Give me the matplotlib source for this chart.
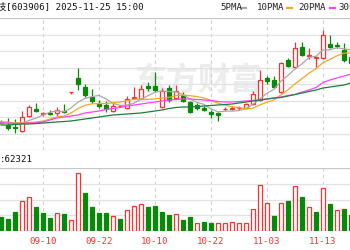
import numpy as np
import matplotlib
matplotlib.use("Agg")
import matplotlib.pyplot as plt
from matplotlib.lines import Line2D

plt.rcParams['font.family'] = ['DejaVu Sans Mono', 'Noto Sans CJK SC']

# daily k-line, 2025-09-02 .. 2025-11-19 (chart is cut at the right edge)
opens = [9.85, 9.50, 9.35, 8.90, 10.40, 11.10, 10.60, 10.70, 10.70, 10.95,
         12.80, 14.20, 13.30, 12.30, 11.65, 11.50, 10.90, 11.40, 11.20, 12.20,
         12.15, 13.40, 13.45, 11.30, 13.20, 12.20, 12.50, 11.80, 11.50, 11.20,
         10.80, 10.70, 11.10, 11.15, 11.20, 11.20, 11.60, 12.00, 14.20, 14.00,
         12.80, 16.00, 15.30, 17.30, 16.45, 16.25, 16.20, 17.60, 17.50, 17.00,
         16.30]
highs = [10.00, 10.20, 10.10, 10.90, 11.50, 11.70, 10.85, 11.00, 11.30, 11.60,
         12.85, 15.25, 13.60, 13.10, 12.00, 11.90, 11.70, 11.55, 12.40, 13.30,
         13.55, 13.80, 14.80, 13.20, 13.50, 13.50, 12.80, 11.90, 11.70, 11.40,
         11.00, 10.80, 11.35, 11.40, 11.40, 11.70, 12.90, 15.00, 14.40, 14.40,
         15.80, 16.20, 17.80, 17.80, 17.20, 16.40, 19.00, 18.50, 17.80, 17.70,
         16.50]
lows = [9.60, 9.00, 8.70, 8.80, 10.30, 10.80, 10.45, 10.50, 10.40, 10.70,
        12.65, 13.00, 12.30, 11.70, 11.20, 10.80, 10.80, 11.30, 11.15, 12.15,
        12.10, 12.90, 12.80, 11.20, 11.80, 12.10, 11.80, 10.70, 11.00, 10.90,
        10.20, 9.90, 10.95, 11.00, 11.05, 11.15, 11.50, 11.95, 13.60, 13.20,
        12.75, 15.30, 15.25, 16.40, 16.10, 15.20, 16.15, 17.20, 17.20, 15.80,
        15.60]
closes = [9.75, 9.20, 9.20, 10.35, 11.30, 10.95, 10.70, 10.60, 11.00, 10.85,
          12.85, 13.60, 12.50, 11.90, 11.45, 11.10, 11.40, 11.45, 12.10, 12.35,
          13.10, 13.20, 13.05, 12.90, 12.00, 12.90, 11.90, 10.80, 11.20, 11.00,
          10.60, 10.50, 11.15, 11.20, 11.25, 11.60, 12.60, 14.00, 13.90, 13.30,
          15.70, 15.40, 17.20, 16.50, 16.50, 16.30, 18.50, 17.35, 17.45, 16.00,
          15.70]
volumes = [14150, 11870, 18500, 29680, 33340, 23440, 17510, 12860, 18100, 16520,
           10880, 57080, 37290, 23440, 17510, 17510, 15130, 11870, 20770, 25030,
           26410, 23440, 25030, 19090, 15530, 16520, 10880, 14150, 8210, 9200,
           7620, 7620, 7620, 8900, 8210, 8210, 21470, 45800, 27990, 14540,
           27990, 29680, 44220, 33930, 23440, 18790, 42830, 26410, 20480, 21760,
           15530]
vol_up = "gggrrgggrgrrggggrgrrrggggrggrggrrrrrrrrgrgrgrgrgrgg"

ma5 = [9.80, 9.80, 9.70, 9.70, 9.95, 10.20, 10.50, 10.78, 10.91, 10.82,
       11.20, 11.78, 12.16, 12.34, 12.46, 12.11, 11.67, 11.46, 11.50, 11.68,
       12.08, 12.44, 12.76, 12.92, 12.85, 12.81, 12.55, 12.10, 11.76, 11.56,
       11.10, 10.82, 10.89, 10.89, 10.94, 11.14, 11.56, 12.13, 12.67, 13.08,
       13.90, 14.46, 15.10, 15.62, 16.26, 16.38, 17.00, 17.03, 17.22, 17.12,
       17.00]
ma10 = [9.70, 9.70, 9.70, 9.70, 9.75, 9.80, 9.90, 10.10, 10.30, 10.40,
        10.70, 11.14, 11.47, 11.62, 11.64, 11.65, 11.72, 11.81, 11.92, 12.07,
        12.09, 12.05, 12.11, 12.21, 12.26, 12.44, 12.49, 12.43, 12.34, 12.20,
        11.95, 11.68, 11.50, 11.32, 11.25, 11.12, 11.19, 11.51, 11.78, 12.01,
        12.52, 13.01, 13.61, 14.14, 14.67, 15.14, 15.73, 16.06, 16.42, 16.69,
        16.69]
ma20 = [9.70, 9.70, 9.65, 9.65, 9.70, 9.70, 9.80, 10.00, 10.20, 10.30,
        10.40, 10.50, 10.70, 10.80, 10.90, 11.05, 11.15, 11.25, 11.40, 11.50,
        11.60, 11.70, 11.80, 11.90, 12.00, 12.05, 12.10, 12.10, 12.05, 12.00,
        11.95, 11.85, 11.80, 11.80, 11.85, 11.90, 11.95, 12.00, 12.10, 12.20,
        12.30, 12.45, 12.55, 12.80, 13.00, 13.25, 13.75, 14.00, 14.20, 14.40,
        14.60]
ma30 = [9.50, 9.50, 9.55, 9.60, 9.60, 9.65, 9.70, 9.75, 9.80, 9.85,
        9.90, 10.00, 10.10, 10.20, 10.30, 10.40, 10.50, 10.55, 10.60, 10.65,
        10.70, 10.80, 10.90, 11.00, 11.15, 11.25, 11.30, 11.30, 11.35, 11.40,
        11.45, 11.50, 11.55, 11.60, 11.70, 11.80, 11.90, 12.00, 12.10, 12.20,
        12.25, 12.40, 12.55, 12.70, 12.85, 13.00, 13.20, 13.30, 13.40, 13.50,
        13.70]

tick_pos = [6, 14, 22, 30, 38, 46]
tick_labels = ["09-10", "09-22", "10-10", "10-22", "11-03", "11-13"]

RED = "#ff3030"
GREEN = "#078a07"
W, H = 350, 250


def fy(y):
    return 1 - y / H


fig = plt.figure(figsize=(W / 100, H / 100), dpi=100)
ax_p = fig.add_axes([0, fy(150), 1, (150 - 18) / H])
ax_v = fig.add_axes([0, fy(231), 1, (231 - 168) / H])

x = np.arange(len(closes))
xlim = (-1 / 7, 349 / 7)

for ax in (ax_p, ax_v):
    ax.set_xlim(*xlim)
    for s in ax.spines.values():
        s.set_visible(False)
    ax.set_yticks([])
    for t in tick_pos:
        ax.axvline(t, color="#d0d0d0", lw=0.8, ls=(0, (3, 3)), zorder=0.5)

# price panel
pmin, pmax = 7.0, 20.2
ax_p.set_ylim(pmin, pmax)
ax_p.set_xticks([])
for k, g in enumerate(np.linspace(pmin, pmax, 9)):
    ax_p.axhline(g, color="#c8c8c8" if k in (0, 8) else "#e2e2e2", lw=0.9, zorder=0.6)

ax_p.text(0.565, 0.52, "东方财富", transform=ax_p.transAxes, ha="center", va="center",
          fontsize=23, fontweight="bold", color="#ececec",
          family=["Noto Sans CJK SC"], zorder=0.4)

o = np.array(opens); c = np.array(closes)
up = c >= o
col = np.where(up, RED, GREEN)
ax_p.vlines(x, lows, highs, colors=col, lw=0.9, zorder=2)
body = np.maximum(np.abs(c - o), 0.04)
ax_p.bar(x, body, bottom=np.minimum(o, c), width=0.62,
         color=np.where(up, "white", GREEN), edgecolor=col, lw=0.9, zorder=3)

ax_p.plot(x, ma5, color="#a8a8a8", lw=0.9, zorder=4)
ax_p.plot(x, ma10, color="#f5a623", lw=0.9, zorder=4)
ax_p.plot(x, ma20, color="#ff40ff", lw=0.9, zorder=4)
ax_p.plot(x, ma30, color="#1a7f3c", lw=0.9, zorder=4)

# volume panel
vmax = 62321
ax_v.set_ylim(0, vmax)
for k, g in enumerate(np.linspace(0, vmax, 5)):
    ax_v.axhline(g, color="#a8a8a8" if k == 0 else ("#c8c8c8" if k == 4 else "#e2e2e2"),
                 lw=0.9, zorder=0.6)
vcol = np.array([RED if f == "r" else GREEN for f in vol_up])
ax_v.bar(x, volumes, width=0.64, color=np.where(vcol == RED, "white", GREEN),
         edgecolor=vcol, lw=0.9, zorder=3)
ax_v.set_xticks(tick_pos)
ax_v.set_xticklabels(tick_labels)
ax_v.tick_params(axis="x", length=0, pad=4, labelsize=6.6, labelcolor=RED)

# header texts
fig.text(-3 / W, fy(7.5), "技[603906] 2025-11-25 15:00", fontsize=6.6,
         va="center", ha="left", color="#111111")
fig.text(0 / W, fy(159), ":62321", fontsize=6.6, va="center", ha="left", color="#111111")

legend = [("5PMA", 220, 241, "#a8a8a8"), ("10PMA", 257, 287, "#f5a623"),
          ("20PMA", 298, 330, "#ff40ff"), ("30PMA", 338, 370, "#1a7f3c")]
for name, tx, dx, lc in legend:
    fig.text(tx / W, fy(7.5), name, fontsize=6.6, va="center", ha="left", color="#222222")
    fig.add_artist(Line2D([dx / W, (dx + 5) / W], [fy(7.5), fy(7.5)], color=lc, lw=1.6))

fig.savefig("out.png", dpi=100)
